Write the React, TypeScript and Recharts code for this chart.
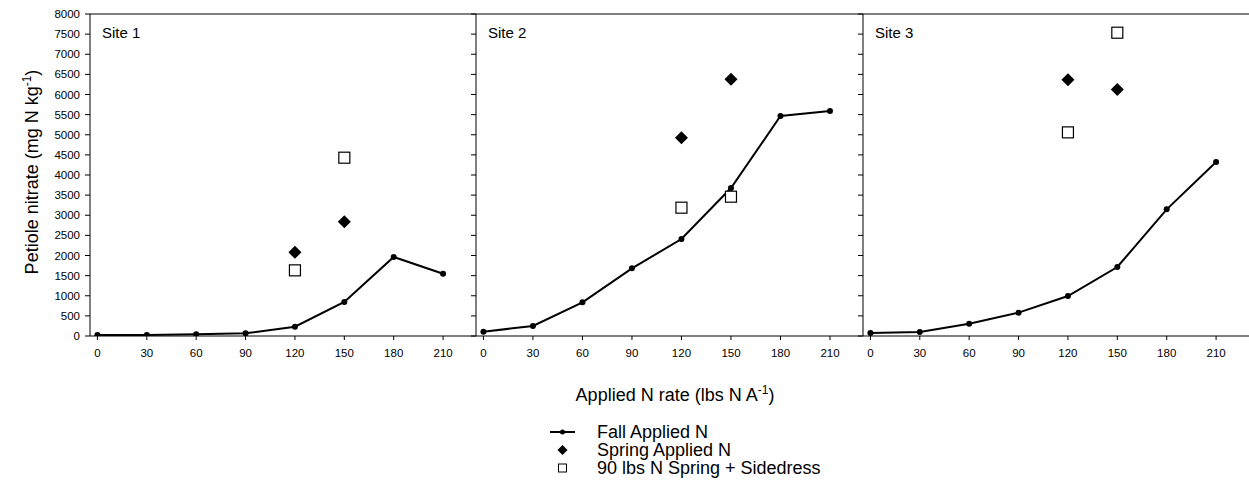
import React from 'react';
import { ComposedChart, Line, Scatter, XAxis, YAxis, ReferenceLine } from 'recharts';

// ---- data ----
const rates = [0, 30, 60, 90, 120, 150, 180, 210];
const springRates = [120, 150];
const siteNames = ['Site 1', 'Site 2', 'Site 3'];

const site1Fall = [25, 25, 41, 66, 232, 845, 1963, 1548];
const site2Fall = [108, 248, 836, 1681, 2410, 3676, 5465, 5589];
const site3Fall = [75, 99, 306, 580, 994, 1714, 3146, 4322];

const site1Spring = [2078, 2840];
const site2Spring = [4927, 6376];
const site3Spring = [6367, 6127];

const site1Side = [1631, 4430];
const site2Side = [3188, 3461];
const site3Side = [5059, 7535];

const yTicks = [0, 500, 1000, 1500, 2000, 2500, 3000, 3500, 4000, 4500, 5000, 5500, 6000, 6500, 7000, 7500, 8000];
const xTicks = [0, 30, 60, 90, 120, 150, 180, 210];

const legendLabels = ['Fall Applied N', 'Spring Applied N', '90 lbs N Spring + Sidedress'];

// ---- layout ----
const FONT = "'Liberation Sans', Arial, Helvetica, sans-serif";
const PANEL_LEFT = [90, 476, 863];
const PANEL_WIDTH = [386, 387, 386];
const Y_AXIS_W = 90;
const PLOT_TOP = 14;
const PLOT_BOTTOM = 336;
const X_AXIS_H = 30;

function Diamond(props: any) {
  const { cx, cy } = props;
  if (cx == null || cy == null) return null;
  const h = 6.5;
  return <path d={`M${cx},${cy - h}L${cx + h},${cy}L${cx},${cy + h}L${cx - h},${cy}Z`} fill="#000" />;
}

function Square(props: any) {
  const { cx, cy } = props;
  if (cx == null || cy == null) return null;
  const s = 5.5;
  return <rect x={cx - s} y={cy - s} width={2 * s} height={2 * s} fill="#fff" stroke="#000" strokeWidth={1.2} />;
}

function Panel({ index, fall, spring, side }: { index: number; fall: number[]; spring: number[]; side: number[] }) {
  const left = PANEL_LEFT[index] - Y_AXIS_W;
  const width = Y_AXIS_W + PANEL_WIDTH[index];
  const fallData = rates.map((x, i) => ({ x, y: fall[i] }));
  const springData = springRates.map((x, i) => ({ x, y: spring[i] }));
  const sideData = springRates.map((x, i) => ({ x, y: side[i] }));
  const tickStyle = { fill: '#000', fontSize: 11.5, fontFamily: FONT };
  return (
    <div style={{ position: 'absolute', left, top: 0 }}>
      <ComposedChart
        width={width}
        height={PLOT_BOTTOM + X_AXIS_H}
        margin={{ top: PLOT_TOP, right: 0, bottom: 0, left: 0 }}
      >
        <XAxis
          type="number"
          dataKey="x"
          domain={[-4.5, 230]}
          ticks={xTicks}
          interval={0}
          allowDataOverflow
          height={X_AXIS_H}
          tickSize={4}
          tickMargin={9}
          tick={tickStyle}
          axisLine={{ stroke: '#000', strokeWidth: 1 }}
          tickLine={{ stroke: '#000', strokeWidth: 1 }}
        />
        <YAxis
          type="number"
          dataKey="y"
          domain={[0, 8000]}
          ticks={yTicks}
          interval={0}
          allowDataOverflow
          width={Y_AXIS_W}
          tickSize={5}
          tickMargin={5}
          tick={tickStyle}
          tickFormatter={index === 0 ? (v: number) => String(v) : () => ''}
          axisLine={{ stroke: '#000', strokeWidth: 1 }}
          tickLine={{ stroke: '#000', strokeWidth: 1 }}
        />
        {index === 2 && (
          <YAxis
            yAxisId="r"
            orientation="right"
            mirror
            type="number"
            domain={[0, 8000]}
            ticks={yTicks}
            interval={0}
            width={0}
            tickSize={3}
            tickFormatter={() => ''}
            axisLine={false}
            tickLine={{ stroke: '#000', strokeWidth: 1 }}
          />
        )}
        <ReferenceLine y={8000} stroke="#000" strokeWidth={1} />
        <Line
          data={fallData}
          dataKey="y"
          stroke="#000"
          strokeWidth={2}
          dot={{ r: 3, fill: '#000', stroke: '#000', strokeWidth: 0 }}
          activeDot={false}
          isAnimationActive={false}
        />
        <Scatter data={springData} dataKey="y" shape={Diamond} isAnimationActive={false} />
        <Scatter data={sideData} dataKey="y" shape={Square} isAnimationActive={false} />
      </ComposedChart>
    </div>
  );
}

export default function App() {
  return (
    <div
      style={{
        position: 'absolute',
        left: 0,
        top: 0,
        width: 1249,
        height: 488,
        overflow: 'hidden',
        background: '#fff',
        fontFamily: FONT,
      }}
    >
      <Panel index={0} fall={site1Fall} spring={site1Spring} side={site1Side} />
      <Panel index={1} fall={site2Fall} spring={site2Spring} side={site2Side} />
      <Panel index={2} fall={site3Fall} spring={site3Spring} side={site3Side} />
      <svg
        width={1249}
        height={488}
        style={{ position: 'absolute', left: 0, top: 0, pointerEvents: 'none' }}
        fontFamily={FONT}
      >
        {siteNames.map((s, i) => (
          <text key={s} x={PANEL_LEFT[i] + 12} y={38} fontSize={15} fill="#000">
            {s}
          </text>
        ))}
        <text x={38} y={172} fontSize={18} fill="#000" textAnchor="middle" transform="rotate(-90, 38, 172)">
          Petiole nitrate (mg N kg
          <tspan dy={-7} fontSize={12}>-1</tspan>
          <tspan dy={7}>)</tspan>
        </text>
        <text x={675} y={401} fontSize={18} fill="#000" textAnchor="middle">
          Applied N rate (lbs N A
          <tspan dy={-7} fontSize={12}>-1</tspan>
          <tspan dy={7}>)</tspan>
        </text>
        {/* legend */}
        <line x1={550} y1={432} x2={575} y2={432} stroke="#000" strokeWidth={2} />
        <circle cx={562.5} cy={432} r={2.5} fill="#000" />
        <path d="M562.5,445L567.5,450L562.5,455L557.5,450Z" fill="#000" />
        <rect x={558.5} y={464} width={8} height={8} fill="#fff" stroke="#000" strokeWidth={1} />
        {legendLabels.map((l, i) => (
          <text key={l} x={597} y={438 + i * 18} fontSize={18} fill="#000">
            {l}
          </text>
        ))}
      </svg>
    </div>
  );
}
